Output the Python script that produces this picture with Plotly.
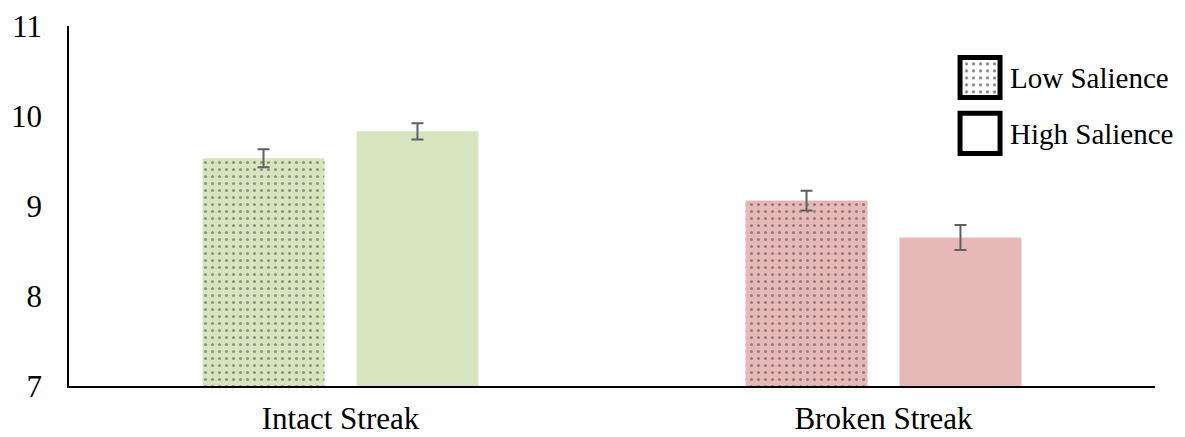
import plotly.graph_objects as go

categories = ["Intact Streak", "Broken Streak"]
low_salience = [9.53, 9.06]
low_err = [0.10, 0.11]
high_salience = [9.83, 8.65]
high_err = [0.09, 0.14]
bar_colors = ["#D7E4BD", "#E6B9B8"]
y_ticks = [7, 8, 9, 10, 11]
legend_labels = ["Low Salience", "High Salience"]

FONT = "Liberation Serif, Times New Roman, serif"
ERR_COLOR = "#606060"
DOTS = dict(shape=".", fgcolor="black", size=7, solidity=0.16)

fig = go.Figure()

fig.add_trace(go.Bar(
    x=categories, y=low_salience, name=legend_labels[0],
    marker=dict(color=bar_colors, line=dict(width=0),
                pattern=dict(bgcolor=bar_colors, **DOTS)),
    error_y=dict(type="data", array=low_err, color=ERR_COLOR, thickness=2, width=6),
    showlegend=False,
))
fig.add_trace(go.Bar(
    x=categories, y=high_salience, name=legend_labels[1],
    marker=dict(color=bar_colors, line=dict(width=0)),
    error_y=dict(type="data", array=high_err, color=ERR_COLOR, thickness=2, width=6),
    showlegend=False,
))

# legend swatches drawn as single bars on small hidden axes
fig.add_trace(go.Bar(
    x=[0], y=[1], width=[1], xaxis="x2", yaxis="y2", showlegend=False, hoverinfo="skip",
    marker=dict(color="white", line=dict(color="black", width=5),
                pattern=dict(bgcolor="white", **DOTS)),
))
fig.add_trace(go.Bar(
    x=[0], y=[1], width=[1], xaxis="x3", yaxis="y3", showlegend=False, hoverinfo="skip",
    marker=dict(color="white", line=dict(color="black", width=5)),
))

hidden = dict(visible=False, fixedrange=True)
# the page body adds an ~8px offset, so the figure is sized 8px smaller and margins shifted
fig.update_layout(
    width=1177, height=429,
    margin=dict(l=61, r=30, t=18, b=51, autoexpand=False),
    paper_bgcolor="white", plot_bgcolor="white",
    barmode="group", bargap=0.433, bargroupgap=0.208,
    font=dict(family=FONT, size=31, color="black"),
    xaxis=dict(showline=True, linecolor="black", linewidth=1.5, ticks="",
               showgrid=False, zeroline=False, ticklabelstandoff=4, automargin=False,
               tickfont=dict(size=31, family=FONT)),
    yaxis=dict(range=[7, 11], tickvals=y_ticks, showline=True, linecolor="black",
               linewidth=1.5, ticks="", showgrid=False, zeroline=False, automargin=False,
               ticklabelstandoff=19, tickfont=dict(size=31, family=FONT)),
    xaxis2=dict(domain=[0.8168, 0.8610], range=[-0.6, 0.6], anchor="y2", **hidden),
    yaxis2=dict(domain=[0.790, 0.924], range=[-0.1, 1.1], anchor="x2", **hidden),
    xaxis3=dict(domain=[0.8168, 0.8610], range=[-0.6, 0.6], anchor="y3", **hidden),
    yaxis3=dict(domain=[0.635, 0.769], range=[-0.1, 1.1], anchor="x3", **hidden),
    showlegend=False,
)

fig.add_annotation(x=0.8646, y=0.8556, xref="paper", yref="paper", text=legend_labels[0],
                   showarrow=False, xanchor="left", yanchor="middle",
                   font=dict(size=29, family=FONT))
fig.add_annotation(x=0.8646, y=0.700, xref="paper", yref="paper", text=legend_labels[1],
                   showarrow=False, xanchor="left", yanchor="middle",
                   font=dict(size=29, family=FONT))

fig.write_html("out.html")
